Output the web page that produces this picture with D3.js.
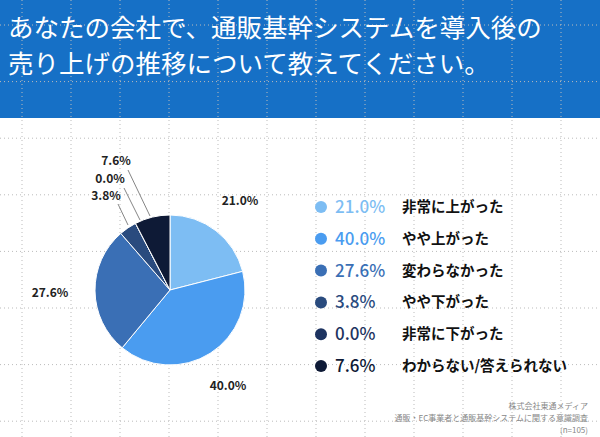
<!DOCTYPE html><html><head><meta charset="utf-8"><script src="https://cdn.jsdelivr.net/npm/d3@7"></script>
<style>body{margin:0}text{font-family:"Noto Sans CJK JP",sans-serif}</style></head><body><svg width="600" height="437"></svg>
<script>
const categories=["非常に上がった","やや上がった","変わらなかった","やや下がった","非常に下がった","わからない/答えられない"];
const values=[21.0,40.0,27.6,3.8,0.0,7.6];
const colors=["#7dbdf3","#4a9cf0","#3a6fb5","#2a4b7e","#1d3360","#0e1a36"];
const labelPos=[[240,205],[228,390],[50,297],[106,200],[110,183],[116,165]];
const svg=d3.select("svg");
svg.append("rect").attr("width",600).attr("height",437).attr("fill","#fff");
svg.append("rect").attr("width",600).attr("height",118).attr("fill","#1670c6");
const g=svg.append("g").attr("stroke","#bbb").attr("stroke-dasharray","1,3").attr("stroke-width",1);
d3.range(22,600,49).forEach(x=>g.append("line").attr("x1",x).attr("x2",x).attr("y1",0).attr("y2",437));
d3.range(25,437,56.6).forEach(y=>g.append("line").attr("x1",0).attr("x2",600).attr("y1",y).attr("y2",y));
svg.append("text").attr("x",8).attr("y",37).attr("fill","#fff").attr("font-size",25.5).text("あなたの会社で、通販基幹システムを導入後の");
svg.append("text").attr("x",8).attr("y",73).attr("fill","#fff").attr("font-size",25.5).text("売り上げの推移について教えてください。");
const pie=d3.pie().sort(null).value(d=>d)(values);
const arc=d3.arc().innerRadius(0).outerRadius(75);
const pg=svg.append("g").attr("transform","translate(170,290)");
pg.selectAll("path").data(pie).join("path").attr("d",arc).attr("fill",(d,i)=>colors[i]).attr("stroke","#fff").attr("stroke-width",1);
pie.forEach((d,i)=>{
  svg.append("text").attr("x",labelPos[i][0]).attr("y",labelPos[i][1]).attr("text-anchor","middle").attr("font-size",12).attr("font-weight","bold").attr("fill","#222").text(values[i].toFixed(1)+"%");
});
[[3,118,204,128,225],[4,124,188,140,220],[5,128,170,150,216]].forEach(([i,x1,y1,x2,y2])=>svg.append("line").attr("x1",x1).attr("y1",y1).attr("x2",x2).attr("y2",y2).attr("stroke","#666").attr("stroke-width",0.8));
const y=d3.scalePoint().domain(categories).range([207,366]);
categories.forEach((c,i)=>{
  const yy=y(c);
  svg.append("circle").attr("cx",321).attr("cy",yy).attr("r",6).attr("fill",colors[i]);
  svg.append("text").attr("x",335).attr("y",yy+6).attr("font-size",17).attr("font-weight",500).attr("fill",colors[i]).text(values[i].toFixed(1)+"%");
  svg.append("text").attr("x",402).attr("y",yy+5).attr("font-size",14.5).attr("font-weight","bold").attr("fill","#111").text(c);
});
[["株式会社東通メディア",409],["通販・EC事業者と通販基幹システムに関する意識調査",421],["(n=105)",433]].forEach(([t,yy])=>svg.append("text").attr("x",588).attr("y",yy).attr("text-anchor","end").attr("font-size",8).attr("fill","#888").text(t));
</script></body></html>
